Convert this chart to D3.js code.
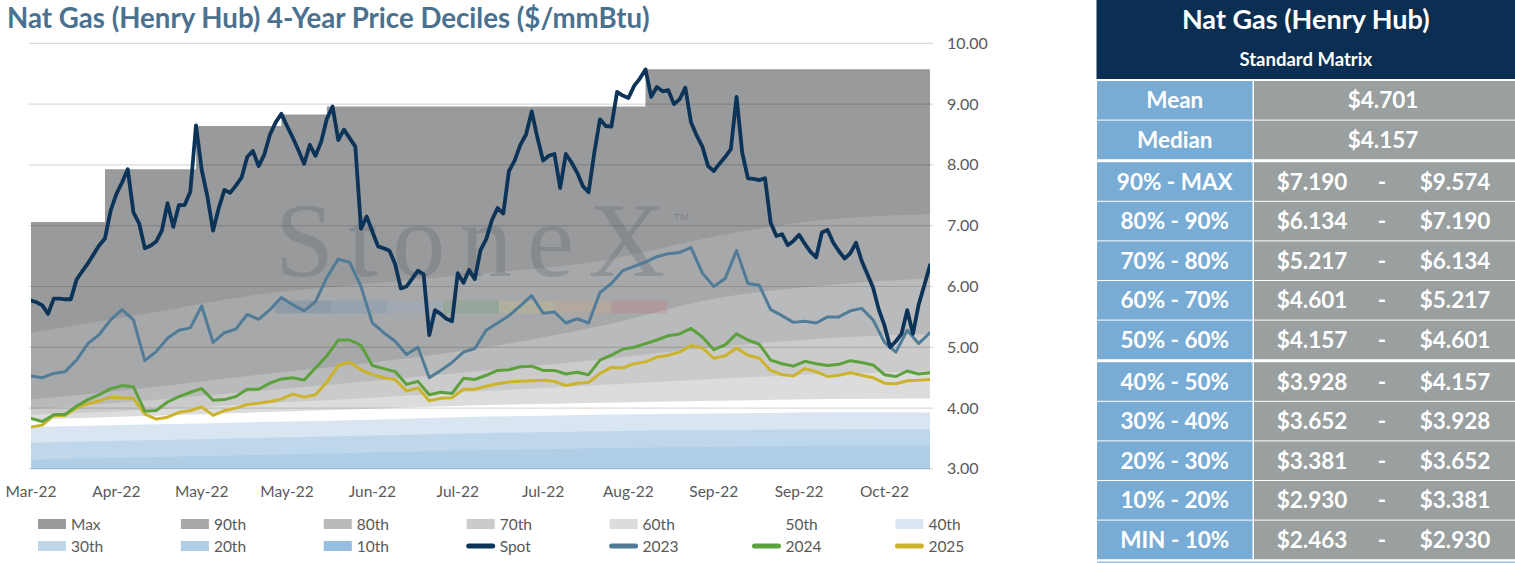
<!DOCTYPE html>
<html><head><meta charset="utf-8">
<script src="https://cdn.jsdelivr.net/npm/d3@7"></script>
<style>
body{margin:0;background:#fff;}
svg{display:block;}
text{font-family:Lato,"Open Sans",sans-serif;}
</style>
</head><body>
<svg id="c" width="1515" height="563"></svg>
<script>
// ---------------- DATA ----------------
const chartTitle = "Nat Gas (Henry Hub) 4-Year Price Deciles ($/mmBtu)";
const xTickLabels = ["Mar-22","Apr-22","May-22","May-22","Jun-22","Jul-22","Jul-22","Aug-22","Sep-22","Sep-22","Oct-22"];
const xTickDays   = [0,15,30,45,60,75,90,105,120,135,150];
const lastDay = 158;
const yTicks = [3,4,5,6,7,8,9,10];

// Spot: one value per trading day (day 0..158)
const spot = [
 5.77,5.74,5.69,5.55,5.80,5.80,5.79,5.79,6.11,6.25,
 6.38,6.53,6.68,6.79,7.25,7.52,7.71,7.93,7.22,7.04,
 6.63,6.67,6.74,6.92,7.37,6.98,7.34,7.34,7.56,8.65,
 7.92,7.48,6.92,7.29,7.59,7.54,7.66,7.79,8.13,8.23,
 7.98,8.17,8.50,8.70,8.84,8.64,8.45,8.24,8.02,8.33,
 8.15,8.38,8.76,8.96,8.41,8.58,8.44,8.30,6.95,7.15,
 6.90,6.66,6.63,6.59,6.37,5.97,6.00,6.13,6.26,6.20,
 5.20,5.61,5.55,5.47,5.43,6.22,6.06,6.27,6.12,6.60,
 6.78,7.09,7.29,7.20,7.90,8.07,8.33,8.50,8.88,8.45,
 8.07,8.15,8.18,7.62,8.18,8.04,7.87,7.65,7.55,8.20,
 8.75,8.64,8.63,9.20,9.14,9.10,9.30,9.42,9.57,9.12,
 9.28,9.21,9.23,9.00,9.08,9.27,8.70,8.48,8.30,7.98,
 7.90,8.02,8.13,8.26,9.12,8.20,7.78,7.77,7.75,7.78,
 7.05,6.83,6.86,6.68,6.75,6.85,6.70,6.57,6.48,6.89,
 6.93,6.72,6.58,6.46,6.55,6.72,6.42,6.20,5.98,5.62,
 5.36,5.00,5.10,5.22,5.61,5.22,5.70,6.02,6.35
];
// Strips: one value every 2 trading days (day 0,2,...,158)
const strip2023 = [
 4.53,4.50,4.57,4.60,4.79,5.06,5.21,5.45,5.62,5.45,
 4.78,4.93,5.15,5.28,5.32,5.68,5.08,5.24,5.30,5.54,
 5.46,5.62,5.82,5.70,5.60,5.75,6.15,6.45,6.40,6.00,
 5.40,5.24,5.10,4.88,5.00,4.50,4.62,4.75,4.92,4.98,
 5.28,5.40,5.52,5.68,5.85,5.56,5.58,5.40,5.47,5.40,
 5.90,6.05,6.26,6.33,6.40,6.49,6.54,6.56,6.64,6.22,
 6.00,6.13,6.59,6.05,6.02,5.62,5.52,5.41,5.43,5.40,
 5.50,5.50,5.60,5.64,5.45,5.08,4.92,5.28,5.06,5.24
];
const strip2024 = [
 3.83,3.78,3.89,3.90,4.03,4.14,4.22,4.32,4.37,4.35,
 3.95,3.96,4.10,4.19,4.26,4.32,4.13,4.14,4.19,4.31,
 4.31,4.41,4.48,4.50,4.46,4.66,4.86,5.12,5.12,5.03,
 4.70,4.65,4.60,4.39,4.44,4.22,4.26,4.24,4.49,4.47,
 4.54,4.62,4.63,4.68,4.69,4.62,4.62,4.56,4.59,4.55,
 4.79,4.87,4.97,5.00,5.06,5.12,5.19,5.22,5.31,5.17,
 4.96,5.04,5.22,5.12,5.05,4.79,4.73,4.69,4.77,4.73,
 4.70,4.72,4.78,4.75,4.71,4.55,4.52,4.61,4.56,4.58
];
const strip2025 = [
 3.69,3.72,3.88,3.88,4.00,4.07,4.12,4.18,4.17,4.16,
 3.90,3.82,3.85,3.93,3.96,4.02,3.88,3.96,4.00,4.06,
 4.08,4.11,4.15,4.23,4.18,4.22,4.43,4.70,4.76,4.63,
 4.55,4.50,4.47,4.28,4.33,4.12,4.16,4.17,4.31,4.31,
 4.36,4.40,4.43,4.44,4.45,4.46,4.44,4.37,4.41,4.42,
 4.57,4.67,4.66,4.73,4.76,4.84,4.87,4.92,5.03,4.99,
 4.82,4.86,4.99,4.87,4.82,4.62,4.55,4.53,4.65,4.60,
 4.52,4.54,4.58,4.54,4.50,4.41,4.40,4.45,4.46,4.47
];
// Rolling 4-year deciles
const maxDays = [0,13,29,44,52,108,158];
const maxVals = [7.06,7.93,8.64,8.83,8.96,9.574,9.574];
const bandDays = [0,20,40,60,80,100,120,140,158];
const p90 = [5.24,5.55,5.87,6.05,6.22,6.42,6.82,7.10,7.190];
const p80 = [4.14,4.33,4.55,4.75,5.00,5.35,5.80,6.02,6.134];
const p70 = [3.98,4.12,4.28,4.45,4.62,4.80,5.00,5.15,5.217];
const p60 = [3.89,3.97,4.07,4.17,4.28,4.38,4.48,4.56,4.601];
const p50 = [3.81,3.87,3.93,3.99,4.05,4.09,4.12,4.15,4.157];
const p40 = [3.69,3.73,3.77,3.81,3.86,3.89,3.91,3.93,3.928];
const p30 = [3.43,3.47,3.51,3.55,3.59,3.62,3.64,3.65,3.652];
const p20 = [3.15,3.19,3.23,3.27,3.31,3.34,3.36,3.38,3.381];
const p10 = [2.80,2.83,2.86,2.88,2.90,2.91,2.92,2.93,2.930];
// Table
const tableHeader = "Nat Gas (Henry Hub)";
const tableSub = "Standard Matrix";
const tableLabels = ["Mean","Median","90% - MAX","80% - 90%","70% - 80%","60% - 70%","50% - 60%","40% - 50%","30% - 40%","20% - 30%","10% - 20%","MIN - 10%"];
const tableLow  = ["$4.701","$4.157","$7.190","$6.134","$5.217","$4.601","$4.157","$3.928","$3.652","$3.381","$2.930","$2.463"];
const tableHigh = [null,null,"$9.574","$7.190","$6.134","$5.217","$4.601","$4.157","$3.928","$3.652","$3.381","$2.930"];

// ---------------- DRAW ----------------
const svg = d3.select("#c");
const x = d3.scaleLinear().domain([0,lastDay]).range([31,930]);
const y = d3.scaleLinear().domain([3,10]).range([468.9,43.3]);
const axisColor = "#595959";

svg.append("defs").append("clipPath").attr("id","plot")
  .append("rect").attr("x",x(0)).attr("y",y(10)-2).attr("width",x(lastDay)-x(0)).attr("height",y(3)-y(10)+2);

const bands = [
  {name:"Max", days:maxDays, vals:maxVals, color:"#999a9c", curve:d3.curveStepAfter},
  {name:"90th",days:bandDays,vals:p90,color:"#a7a8a9"},
  {name:"80th",days:bandDays,vals:p80,color:"#b9babb"},
  {name:"70th",days:bandDays,vals:p70,color:"#cbcbcb"},
  {name:"60th",days:bandDays,vals:p60,color:"#dcdcdc"},
  {name:"50th",days:bandDays,vals:p50,color:"#ffffff"},
  {name:"40th",days:bandDays,vals:p40,color:"#d9e6f2"},
  {name:"30th",days:bandDays,vals:p30,color:"#bed7eb"},
  {name:"20th",days:bandDays,vals:p20,color:"#b0cee6"},
  {name:"10th",days:bandDays,vals:p10,color:"#97bee0"}
];
const gBands = svg.append("g").attr("clip-path","url(#plot)");
bands.forEach(b=>{
  const pts = b.days.map((d,i)=>[d,b.vals[i]]);
  const area = d3.area().x(d=>x(d[0])).y0(y(3)+5).y1(d=>y(d[1])).curve(b.curve||d3.curveMonotoneX);
  gBands.append("path").attr("d",area(pts)).attr("fill",b.color);
});

// gridlines
svg.append("g").selectAll("line").data(yTicks).join("line")
  .attr("x1",29).attr("x2",933).attr("y1",d=>y(d)).attr("y2",d=>y(d))
  .attr("stroke","rgba(0,0,0,0.14)").attr("stroke-width",1.2);

// watermark
const wm = svg.append("g").attr("pointer-events","none");
wm.append("text").text("StoneX").attr("x",275).attr("y",276)
  .attr("textLength",390).attr("lengthAdjust","spacing")
  .style("font-family","'Liberation Serif','DejaVu Serif',serif").style("font-size","106px")
  .attr("fill","#56606c").attr("fill-opacity",0.27);
wm.append("text").text("™").attr("x",672).attr("y",226)
  .style("font-family","'Liberation Sans',sans-serif").style("font-size","18px")
  .attr("fill","#56606c").attr("fill-opacity",0.32);
const stripColors = ["#3f6ea6","#5e8fc4","#8fb3d3","#5f9f6a","#d6c870","#d9a870","#cf6570"];
wm.selectAll("rect").data(stripColors).join("rect")
  .attr("x",(d,i)=>275+i*56).attr("y",300.7).attr("width",56).attr("height",12.6)
  .attr("fill",d=>d).attr("fill-opacity",0.22);

// lines
const lines = [
  {name:"2025", vals:strip2025, step:2, color:"#cbb42c", w:3},
  {name:"2024", vals:strip2024, step:2, color:"#5ca13b", w:3},
  {name:"2023", vals:strip2023, step:2, color:"#517c98", w:3},
  {name:"Spot", vals:spot, step:1, color:"#0c3358", w:3.8}
];
const gLines = svg.append("g").attr("clip-path","url(#plot)");
lines.forEach(l=>{
  const line = d3.line().x((d,i)=>x(i*l.step)).y(d=>y(d));
  gLines.append("path").attr("d",line(l.vals)).attr("fill","none")
    .attr("stroke",l.color).attr("stroke-width",l.w).attr("stroke-linejoin","round").attr("stroke-linecap","round");
});

// y labels (right)
svg.append("g").selectAll("text").data(yTicks).join("text")
  .attr("x",947).attr("y",d=>y(d)+5.5).text(d=>d3.format(".2f")(d))
  .attr("fill",axisColor).style("font-size","16px");

// x labels
svg.append("g").selectAll("text").data(xTickDays).join("text")
  .attr("x",d=>x(d)).attr("y",497).attr("text-anchor","middle")
  .text((d,i)=>xTickLabels[i]).attr("fill",axisColor).style("font-size","15.5px");

// title
const tt = svg.append("text").text(chartTitle).attr("x",7).attr("y",28)
  .attr("fill","#4a7190").style("font-weight",700).style("font-size","24px");
const tl = tt.node().getComputedTextLength();
tt.style("font-size",(24*643/tl)+"px");

// legend
const legendItems = bands.map(b=>({name:b.name,color:b.color,type:"box"}))
  .concat(lines.slice().reverse().map(l=>({name:l.name,color:l.color,type:"line"})));
const lg = svg.append("g");
legendItems.forEach((it,k)=>{
  const col = k%7, row = Math.floor(k/7);
  const lx = 38 + col*142.9, ly = 524 + row*22;
  if(it.type==="box"){
    lg.append("rect").attr("x",lx).attr("y",ly-5).attr("width",28).attr("height",10).attr("fill",it.color);
  } else {
    lg.append("line").attr("x1",lx+2).attr("x2",lx+26).attr("y1",ly).attr("y2",ly)
      .attr("stroke",it.color).attr("stroke-width",5).attr("stroke-linecap","round");
  }
  lg.append("text").attr("x",lx+33).attr("y",ly+5.5).text(it.name)
    .attr("fill",axisColor).style("font-size","15.5px");
});

// table
const tb = svg.append("g");
const tL = 1096.5, tS = 1253, tR = 1515;
tb.append("rect").attr("x",tL).attr("y",0).attr("width",tR-tL).attr("height",79).attr("fill","#0b2f52");
tb.append("text").attr("x",(tL+tR)/2).attr("y",28.5).attr("text-anchor","middle").text(tableHeader)
  .attr("fill","#fff").style("font-weight",700).style("font-size","27px");
tb.append("text").attr("x",(tL+tR)/2).attr("y",65.5).attr("text-anchor","middle").text(tableSub)
  .attr("fill","#fff").style("font-weight",700).style("font-size","18.5px");
const rowH = 38.6;
const rowTop = k => 81 + k*39.6 + (k>=2?2:0) + (k>=7?2:0);
tableLabels.forEach((lab,k)=>{
  const t0 = rowTop(k), base = t0 + rowH/2 + 8;
  tb.append("rect").attr("x",tL+0.5).attr("y",t0).attr("width",tS-tL-1).attr("height",rowH).attr("fill","#79acd5");
  tb.append("rect").attr("x",tS+1).attr("y",t0).attr("width",tR-tS-1).attr("height",rowH).attr("fill","#99a09f");
  tb.append("text").attr("x",(tL+tS)/2).attr("y",base).attr("text-anchor","middle").text(lab)
    .attr("fill","#fff").style("font-weight",700).style("font-size","22.5px");
  if(tableHigh[k]===null){
    tb.append("text").attr("x",1383).attr("y",base).attr("text-anchor","middle").text(tableLow[k])
      .attr("fill","#fff").style("font-weight",700).style("font-size","22.5px");
  } else {
    [[1312,tableLow[k]],[1382,"-"],[1455,tableHigh[k]]].forEach(([cx,s])=>{
      tb.append("text").attr("x",cx).attr("y",base).attr("text-anchor","middle").text(s)
        .attr("fill","#fff").style("font-weight",700).style("font-size","22.5px");
    });
  }
});
tb.append("rect").attr("x",tL+0.5).attr("y",561.5).attr("width",tR-tL).attr("height",1.5).attr("fill","#9cc0de");
</script>
</body></html>
